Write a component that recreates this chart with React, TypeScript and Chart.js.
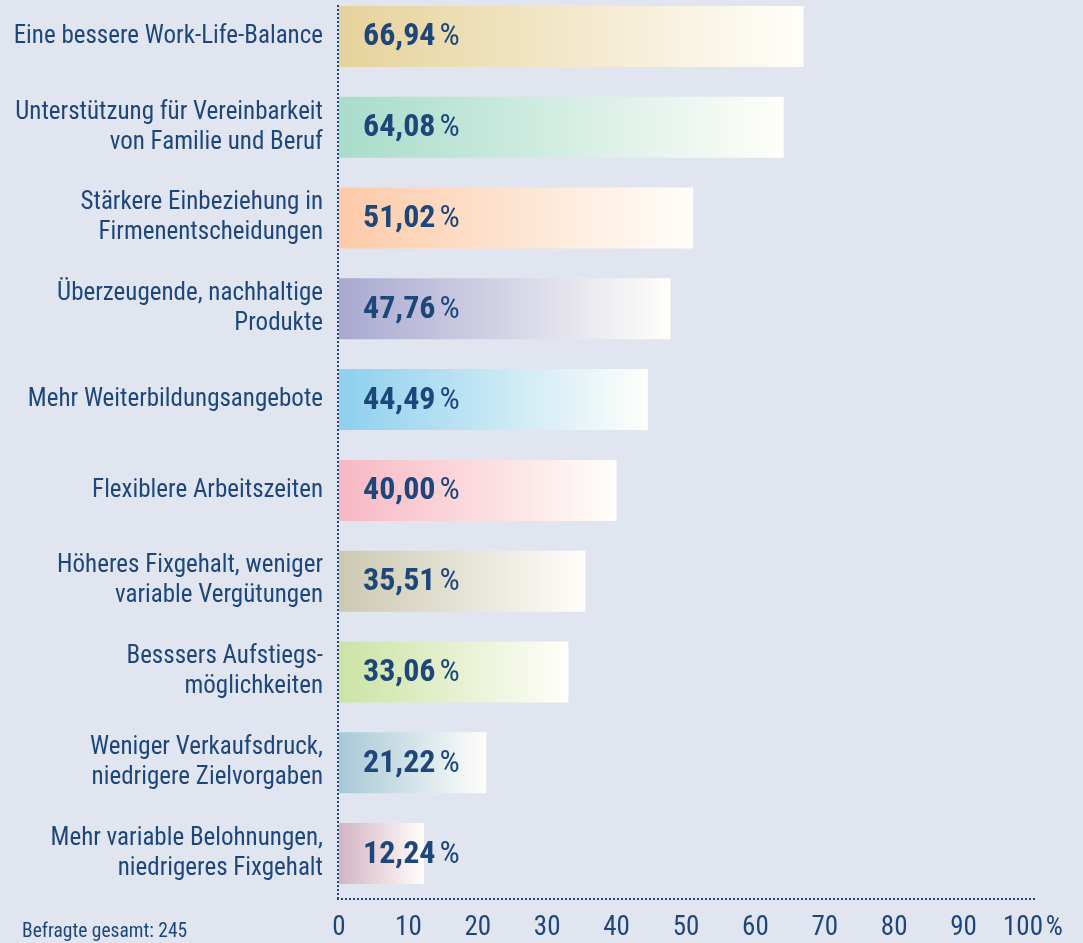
import React, { useEffect, useRef } from 'react';
import { Chart, registerables } from 'chart.js';

Chart.register(...registerables);

const categories: string[][] = [
  ['Eine bessere Work-Life-Balance'],
  ['Unterstützung für Vereinbarkeit', 'von Familie und Beruf'],
  ['Stärkere Einbeziehung in', 'Firmenentscheidungen'],
  ['Überzeugende, nachhaltige', 'Produkte'],
  ['Mehr Weiterbildungsangebote'],
  ['Flexiblere Arbeitszeiten'],
  ['Höheres Fixgehalt, weniger', 'variable Vergütungen'],
  ['Besssers Aufstiegs-', 'möglichkeiten'],
  ['Weniger Verkaufsdruck,', 'niedrigere Zielvorgaben'],
  ['Mehr variable Belohnungen,', 'niedrigeres Fixgehalt'],
];
const values: number[] = [66.94, 64.08, 51.02, 47.76, 44.49, 40.0, 35.51, 33.06, 21.22, 12.24];
const barColors: string[] = [
  '#e6d29b', '#a8dccb', '#fccaa8', '#a9a9d1', '#8ed0ee',
  '#f7b8c4', '#ccc8b2', '#cce3a5', '#a8c8d7', '#d4b3c4',
];
const xTicks: number[] = [0, 10, 20, 30, 40, 50, 60, 70, 80, 90, 100];
const footnote = 'Befragte gesamt: 245';

const NAVY = '#1d477b';
const BG = '#e1e5f0';
const FONT = '"Roboto Condensed", Roboto, sans-serif';

const fmt = (v: number) => v.toFixed(2).replace('.', ',');

export default function App() {
  const ref = useRef<HTMLCanvasElement>(null);

  useEffect(() => {
    const canvas = ref.current!;

    const bgPlugin = {
      id: 'bg',
      beforeDraw(chart: any) {
        const c = chart.ctx;
        c.save();
        c.fillStyle = BG;
        c.fillRect(0, 0, chart.width, chart.height);
        c.restore();
      },
    };

    const axesPlugin = {
      id: 'dottedAxes',
      afterDatasetsDraw(chart: any) {
        const c = chart.ctx;
        const a = chart.chartArea;
        const xs = chart.scales.x;
        c.save();
        c.strokeStyle = NAVY;
        c.lineWidth = 2;
        c.setLineDash([2, 2]);
        c.beginPath();
        c.moveTo(a.left - 1, 5);
        c.lineTo(a.left - 1, a.bottom);
        c.stroke();
        c.beginPath();
        c.moveTo(a.left - 2, a.bottom - 1);
        c.lineTo(xs.getPixelForValue(100) + 2, a.bottom - 1);
        c.stroke();
        c.restore();
      },
    };

    const valuePlugin = {
      id: 'values',
      afterDatasetsDraw(chart: any) {
        const c = chart.ctx;
        const meta = chart.getDatasetMeta(0);
        const left = chart.chartArea.left;
        c.save();
        c.fillStyle = NAVY;
        c.textBaseline = 'alphabetic';
        c.textAlign = 'left';
        meta.data.forEach((bar: any, i: number) => {
          const x = left + 24;
          const y = bar.y + 9;
          c.font = `bold 32px ${FONT}`;
          const t = fmt(values[i]);
          c.fillText(t, x, y);
          const w = c.measureText(t).width;
          c.font = `400 32px ${FONT}`;
          c.fillText('%', x + w + 4, y);
        });
        c.font = `400 19.5px ${FONT}`;
        c.fillText(footnote, 22, 937);
        c.restore();
      },
    };

    const chart = new Chart(canvas, {
      type: 'bar',
      data: {
        datasets: [
          {
            data: values.map((v, i) => ({ x: v, y: i })),
            backgroundColor: (ctx: any) => {
              const i = ctx.dataIndex;
              if (i === undefined) return barColors[0];
              const ch = ctx.chart;
              const xs = ch.scales.x;
              if (!ch.chartArea || !xs) return barColors[i];
              const x0 = xs.getPixelForValue(0);
              const x1 = xs.getPixelForValue(values[i]);
              const g = ch.ctx.createLinearGradient(x0, 0, x1, 0);
              g.addColorStop(0, barColors[i]);
              g.addColorStop(1, '#fffefa');
              return g;
            },
            borderWidth: 0,
            barPercentage: 0.672,
            categoryPercentage: 1,
          },
        ],
      },
      options: {
        indexAxis: 'y',
        responsive: false,
        animation: false,
        layout: { padding: { top: 0, left: 0, right: 50, bottom: 0 } },
        plugins: {
          legend: { display: false },
          tooltip: { enabled: false },
        },
        scales: {
          y: {
            type: 'linear',
            reverse: true,
            offset: false,
            min: -0.402,
            max: 9.512,
            afterBuildTicks: (s: any) => {
              s.ticks = categories.map((_, i) => ({ value: i }));
            },
            afterFit: (s: any) => {
              s.width = 339;
              s.paddingTop = 0;
              s.paddingBottom = 0;
            },
            grid: { display: false, drawTicks: false },
            border: { display: false },
            ticks: {
              autoSkip: false,
              padding: 16,
              color: NAVY,
              font: { family: FONT, size: 25, lineHeight: 1.2 },
              callback: (_v: any, idx: number) => categories[idx],
            },
          },
          x: {
            type: 'linear',
            min: 0,
            max: 100,
            afterBuildTicks: (s: any) => {
              s.ticks = xTicks.map((v) => ({ value: v }));
            },
            afterFit: (s: any) => {
              s.height = 43;
              s.paddingLeft = 0;
              s.paddingRight = 0;
            },
            grid: { display: false, drawTicks: false },
            border: { display: false },
            ticks: {
              autoSkip: false,
              maxRotation: 0,
              padding: 12,
              color: NAVY,
              font: { family: FONT, size: 27 },
              callback: (v: any) => (v === 100 ? '100\u200a%' : String(v)),
            },
          },
        },
      },
      plugins: [bgPlugin, axesPlugin, valuePlugin],
    } as any);

    return () => chart.destroy();
  }, []);

  return (
    <div style={{ position: 'absolute', left: 0, top: 0, width: 1083, height: 943 }}>
      <canvas ref={ref} width={1083} height={943} style={{ display: 'block' }} />
    </div>
  );
}
